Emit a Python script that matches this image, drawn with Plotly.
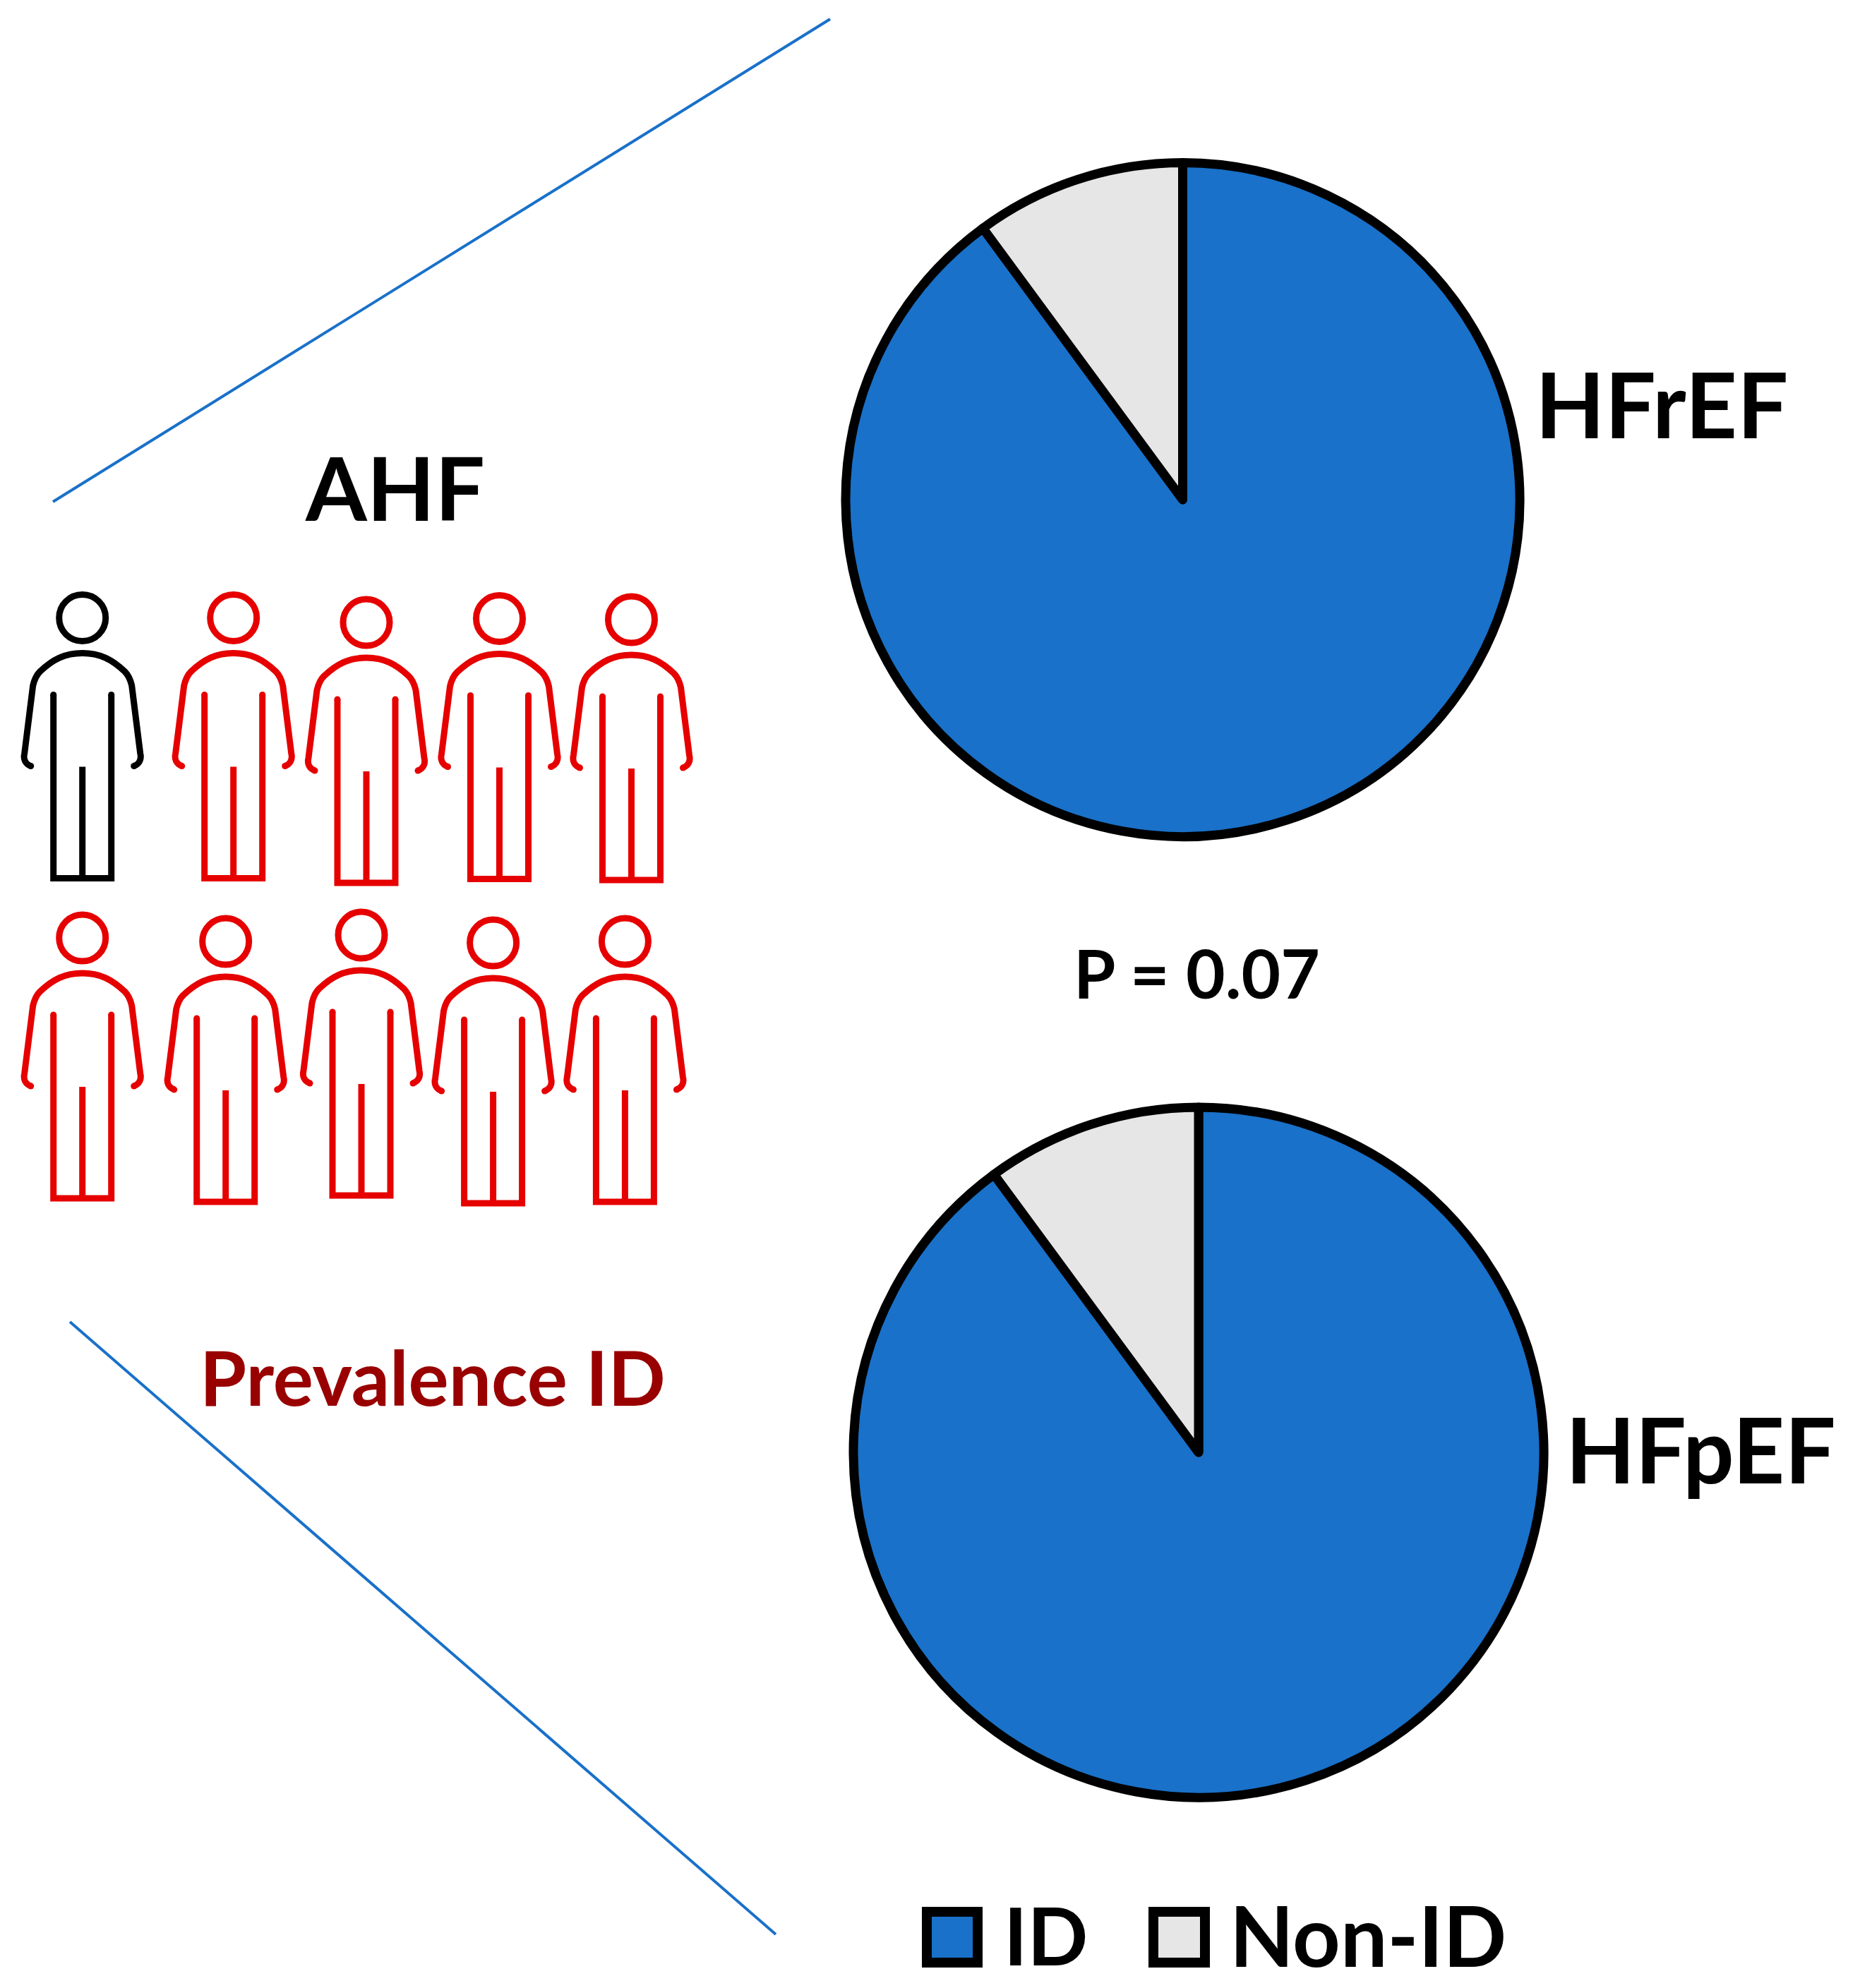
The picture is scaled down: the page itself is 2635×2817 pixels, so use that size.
import plotly.graph_objects as go

W = 2635
H = 2817

categories = ["ID", "Non-ID"]
hfref_values = [89.9, 10.1]
hfpef_values = [89.9, 10.1]

BLUE = "#1971C9"
GREY = "#E6E6E6"
RED = "#E60000"
DARK_RED = "#990000"
FONT = "Lato"


def X(px):
    return px / W


def Y(py):
    return 1 - py / H


def pie_trace(name, values, cx, cy, r):
    return go.Pie(
        name=name,
        labels=categories,
        values=values,
        sort=False,
        direction="clockwise",
        rotation=0,
        textinfo="none",
        showlegend=False,
        domain=dict(x=[X(cx - r), X(cx + r)], y=[Y(cy + r), Y(cy - r)]),
        marker=dict(colors=[BLUE, GREY], line=dict(color="black", width=13)),
    )


def seg(points):
    # points are pixel offsets, turned into a paper-space svg path
    cmds = []
    for p in points:
        cmds.append(p[0] + " ".join(f"{X(a):.5f},{Y(b):.5f}" for a, b in p[1:]))
    return " ".join(cmds)


def dot(cx, cy, r, color, line=None, width=0):
    return dict(
        type="circle", xref="paper", yref="paper",
        x0=X(cx - r), x1=X(cx + r), y0=Y(cy + r), y1=Y(cy - r),
        fillcolor=color,
        line=dict(color=line or color, width=width),
    )


def person(hx, hy, color):
    out = [dot(hx, hy, 33, "rgba(0,0,0,0)", color, 9)]
    outline = seg([
        ("M", (hx - 73, hy + 210)),
        ("C", (hx - 81, hy + 207), (hx - 84, hy + 200), (hx - 82, hy + 192)),
        ("L", (hx - 70, hy + 96)),
        ("Q", (hx - 67, hy + 83), (hx - 60, hy + 76)),
        ("C", (hx - 42, hy + 59), (hx - 25, hy + 50), (hx, hy + 50)),
        ("C", (hx + 25, hy + 50), (hx + 42, hy + 59), (hx + 60, hy + 76)),
        ("Q", (hx + 67, hy + 83), (hx + 70, hy + 96)),
        ("L", (hx + 82, hy + 192)),
        ("C", (hx + 84, hy + 200), (hx + 81, hy + 207), (hx + 73, hy + 210)),
    ])
    legs = seg([
        ("M", (hx - 41, hy + 109)),
        ("L", (hx - 41, hy + 369)),
        ("L", (hx + 41, hy + 369)),
        ("L", (hx + 41, hy + 109)),
        ("M", (hx, hy + 211)),
        ("L", (hx, hy + 369)),
    ])
    for path in (outline, legs):
        out.append(dict(type="path", xref="paper", yref="paper", path=path,
                        line=dict(color=color, width=9)))
    for dx, dy in [(-73, 210), (73, 210), (-41, 109), (41, 109)]:
        out.append(dot(hx + dx, hy + dy, 4.5, color))
    return out


def label(text, cx, cy, size, color="black"):
    return dict(
        text=text, xref="paper", yref="paper", x=X(cx), y=Y(cy),
        xanchor="center", yanchor="middle", showarrow=False,
        font=dict(family=FONT, size=size, color=color, weight=700),
    )


fig = go.Figure(data=[
    pie_trace("HFrEF", hfref_values, 1675.5, 708, 477.5),
    pie_trace("HFpEF", hfpef_values, 1698, 2058, 489),
])

shapes = []

# the two lines fanning out to the pies
for x0, y0, x1, y1 in [(75, 711, 1176, 27), (99, 1873, 1099, 2741)]:
    shapes.append(dict(type="line", xref="paper", yref="paper",
                       x0=X(x0), y0=Y(y0), x1=X(x1), y1=Y(y1),
                       line=dict(color=BLUE, width=4)))

# ten people, one without ID
heads = [(116.7, 875.5), (330.7, 875.5), (519, 882), (707.5, 876.5), (894.5, 878),
         (116.7, 1329), (319.7, 1334), (512, 1325), (698.6, 1336), (885.4, 1334)]
for i, (hx, hy) in enumerate(heads):
    shapes += person(hx, hy, "black" if i == 0 else RED)

# legend boxes
for x0, x1, colour in [(1313, 1385, BLUE), (1634, 1707, GREY)]:
    shapes.append(dict(type="rect", xref="paper", yref="paper",
                       x0=X(x0), x1=X(x1), y0=Y(2781), y1=Y(2709),
                       fillcolor=colour, line=dict(color="black", width=14)))

annotations = [
    label("AHF", 559, 690, 125),
    label("HFrEF", 2354, 571, 128),
    label("HFpEF", 2409, 2052, 128),
    label("P = 0.07", 1695, 1377, 96),
    label("Prevalence ID", 613, 1950, 107, DARK_RED),
    label("ID", 1482, 2741, 113),
    label("Non-ID", 1938, 2741, 118),
]

fig.update_layout(
    width=W,
    height=H,
    margin=dict(l=0, r=0, t=0, b=0),
    paper_bgcolor="white",
    plot_bgcolor="white",
    shapes=shapes,
    annotations=annotations,
)

# the default page body margin would push the whole figure 8px down and right
fig.write_html("out.html", config=dict(displayModeBar=False),
               post_script="document.body.style.margin='0';")
